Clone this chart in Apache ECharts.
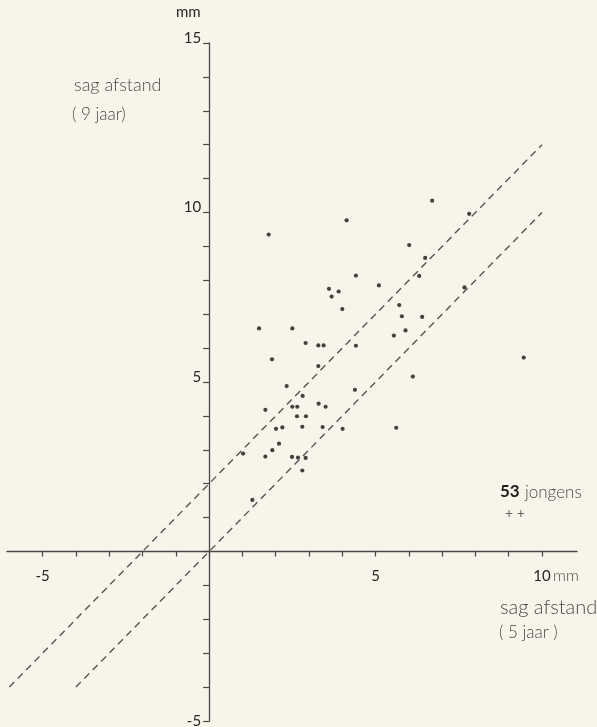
<!DOCTYPE html>
<html>
<head>
<meta charset="utf-8">
<script src="https://cdn.jsdelivr.net/npm/echarts@6/dist/echarts.min.js"></script>
<style>
  html, body { margin: 0; padding: 0; background: #f7f5ea; }
  #chart { width: 597px; height: 727px; }
</style>
</head>
<body>
<div id="chart"></div>
<script>
// sagittale afstand (mm) op 5 jaar (x) en 9 jaar (y), 53 jongens
const sag5 = [6.70, 4.13, 1.79, 6.01, 6.49, 6.31, 4.41, 5.10, 3.60, 3.89,
              3.68, 4.00, 5.71, 5.79, 6.40, 5.90, 5.55, 1.50, 2.50, 2.90,
              3.28, 3.44, 4.41, 1.89, 3.28, 6.12, 2.33, 4.38, 2.81, 1.69,
              2.50, 2.65, 3.29, 3.50, 2.64, 2.91, 2.01, 2.20, 2.80, 3.41,
              4.01, 5.62, 2.10, 1.90, 1.02, 1.69, 2.49, 2.67, 2.90, 2.80,
              1.30, 7.81, 7.67, 9.45];
const sag9 = [10.35, 9.77, 9.35, 9.04, 8.66, 8.13, 8.14, 7.85, 7.75, 7.67,
              7.52, 7.15, 7.27, 6.94, 6.92, 6.52, 6.37, 6.58, 6.58, 6.15,
              6.08, 6.08, 6.07, 5.67, 5.47, 5.16, 4.88, 4.77, 4.59, 4.18,
              4.27, 4.27, 4.36, 4.27, 3.99, 3.99, 3.62, 3.66, 3.68, 3.67,
              3.62, 3.65, 3.18, 2.99, 2.89, 2.80, 2.79, 2.77, 2.76, 2.39,
              1.52, 9.96, 7.79, 5.72];
// reference lines (dashed): y = x + 2 and y = x
const upperLine = [[-6, -4], [10, 12]];
const lowerLine = [[-4, -4], [10, 10]];
const xTicks = [-5, -4, -3, -2, -1, 0, 1, 2, 3, 4, 5, 6, 7, 8, 9, 10];
const xLabels = [-5, 5, 10];
const yLabels = [-5, 5, 10, 15];

const FONT = 'Lato, "Noto Sans", sans-serif';
const TXT = '#262626';
const SOFT = '#4a4a4a';
const AX = '#474747';

const W = 597, H = 727;
const G = { left: 7, right: 20, top: 43, bottom: 6 };
const xMin = -6.07, xMax = 11.05, yMin = -5, yMax = 15;
// offsets that put each axis on the other axis' zero
const gw = W - G.left - G.right, gh = H - G.top - G.bottom;
const yAxisOffset = -((0 - xMin) / (xMax - xMin) * gw);
const xAxisOffset = -((0 - yMin) / (yMax - yMin) * gh);

const chart = echarts.init(document.getElementById('chart'));
const points = sag5.map((x, i) => [x, sag9[i]]);

chart.setOption({
  backgroundColor: '#f7f5ea',
  animation: false,
  grid: Object.assign({ outerBoundsMode: 'none', containLabel: false }, G),
  xAxis: {
    type: 'value', min: xMin, max: xMax, position: 'bottom', offset: xAxisOffset,
    axisLine: { onZero: false, lineStyle: { color: AX, width: 1.3 } },
    axisTick: { customValues: xTicks, length: 5, lineStyle: { color: AX, width: 1.2 } },
    axisLabel: { customValues: xLabels, margin: 17, color: TXT, fontSize: 15, fontFamily: FONT },
    splitLine: { show: false }
  },
  yAxis: {
    type: 'value', min: yMin, max: yMax, interval: 1, position: 'left', offset: yAxisOffset,
    axisLine: { onZero: false, lineStyle: { color: AX, width: 1.3 } },
    axisTick: { length: 6, lineStyle: { color: AX, width: 1.2 } },
    axisLabel: {
      customValues: yLabels, margin: 8, color: TXT, fontSize: 15, fontFamily: FONT,
      formatter: v => (v < 0 ? '{n|' + v + '}' : '{p|' + v + '}'),
      rich: {
        p: { fontSize: 15, fontFamily: FONT, color: TXT, padding: [0, 0, 10, 0] },
        n: { fontSize: 15, fontFamily: FONT, color: TXT, padding: [0, 0, 0, 0] }
      }
    },
    splitLine: { show: false }
  },
  series: [
    { type: 'line', data: upperLine, symbol: 'none',
      lineStyle: { color: '#555', width: 1.4, type: [7, 5] } },
    { type: 'line', data: lowerLine, symbol: 'none',
      lineStyle: { color: '#555', width: 1.4, type: [7, 5] } },
    { type: 'scatter', data: points, symbol: 'circle', symbolSize: 4.2,
      itemStyle: { color: '#151515' } }
  ],
  graphic: [
    { type: 'text', left: 176, top: 5, style: { text: 'mm', fill: TXT, font: '15px ' + FONT } },
    { type: 'text', left: 74, top: 76, style: { text: 'sag afstand', fill: SOFT, font: '300 18px ' + FONT } },
    { type: 'text', left: 72, top: 106, style: { text: '( 9 jaar)', fill: SOFT, font: '300 17px ' + FONT } },
    { type: 'text', left: 553, top: 568, style: { text: 'mm', fill: SOFT, font: '300 16px ' + FONT } },
    { type: 'text', left: 500, top: 483, style: { text: '53', fill: '#1e1e1e', font: 'bold 17px ' + FONT } },
    { type: 'text', left: 525, top: 484, style: { text: 'jongens', fill: SOFT, font: '300 17px ' + FONT,
      letterSpacing: 0.8 } },
    { type: 'text', left: 505, top: 506, style: { text: '+ +', fill: '#666', font: '14px ' + FONT } },
    { type: 'text', left: 500, top: 598, style: { text: 'sag afstand', fill: SOFT, font: '300 20px ' + FONT } },
    { type: 'text', left: 499, top: 624, style: { text: '( 5 jaar )', fill: SOFT, font: '300 17px ' + FONT } }
  ]
});
</script>
</body>
</html>
